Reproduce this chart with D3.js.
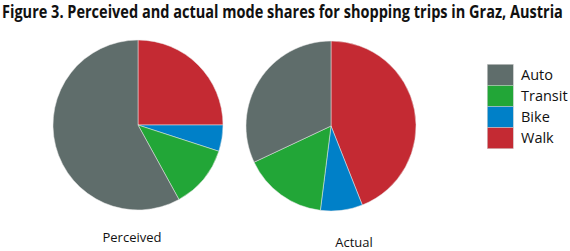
<!DOCTYPE html>
<html><head><meta charset="utf-8">
<script src="https://cdn.jsdelivr.net/npm/d3@7"></script>
<style>body{margin:0;background:#fff}svg{display:block}</style>
</head><body>
<script>
const categories = ["Auto", "Transit", "Bike", "Walk"];
const colors = ["#5f6d6b", "#22a637", "#0080c8", "#c42a33"];
const perceived = [58, 12, 5, 25];
const actual = [32, 16, 8, 44];
const pieTitles = ["Perceived", "Actual"];

const W = 570, H = 251;
const svg = d3.select("body").append("svg").attr("width", W).attr("height", H);

const title = svg.append("text").attr("x", 0).attr("y", 0)
  .attr("font-family", "'Open Sans',sans-serif")
  .attr("font-weight", "bold").attr("font-size", 17.5).attr("fill", "#111")
  .text("Figure 3. Perceived and actual mode shares for shopping trips in Graz, Austria");
const tw = title.node().getComputedTextLength();
title.attr("transform", `translate(2,17.5) scale(${561 / tw},1)`);

const color = d3.scaleOrdinal().domain(categories).range(colors);
const pie = d3.pie().sort(null).value(d => d.v);
const arc = d3.arc().innerRadius(0).outerRadius(85);

const pies = [
  {vals: perceived, cx: 138, cy: 125, label: pieTitles[0], lx: 132, ly: 242},
  {vals: actual, cx: 331, cy: 126, label: pieTitles[1], lx: 354, ly: 247}
];
pies.forEach(p => {
  const data = categories.map((c, i) => ({c, v: p.vals[i]})).reverse();
  const g = svg.append("g").attr("transform", `translate(${p.cx},${p.cy})`);
  g.selectAll("path").data(pie(data)).join("path")
    .attr("d", arc).attr("fill", d => color(d.data.c))
    .attr("stroke", "#e8e8e8").attr("stroke-width", 0.5);
  svg.append("text").attr("x", p.lx).attr("y", p.ly).attr("text-anchor", "middle")
    .attr("font-family", "'Open Sans',sans-serif").attr("font-size", 13).attr("fill", "#111")
    .text(p.label);
});

const leg = d3.scaleBand().domain(categories).range([64.3, 148.7]);
const lg = svg.append("g");
lg.selectAll("rect").data(categories).join("rect")
  .attr("x", 487.3).attr("y", d => leg(d)).attr("width", 26).attr("height", leg.bandwidth())
  .attr("fill", d => color(d)).attr("stroke", "#ccc").attr("stroke-width", 0.5);
lg.selectAll("text").data(categories).join("text")
  .attr("x", 521).attr("y", d => leg(d) + leg.bandwidth() / 2 + 5)
  .attr("font-family", "'Open Sans',sans-serif").attr("font-size", 14.5).attr("fill", "#111")
  .text(d => d);
</script>
</body></html>
